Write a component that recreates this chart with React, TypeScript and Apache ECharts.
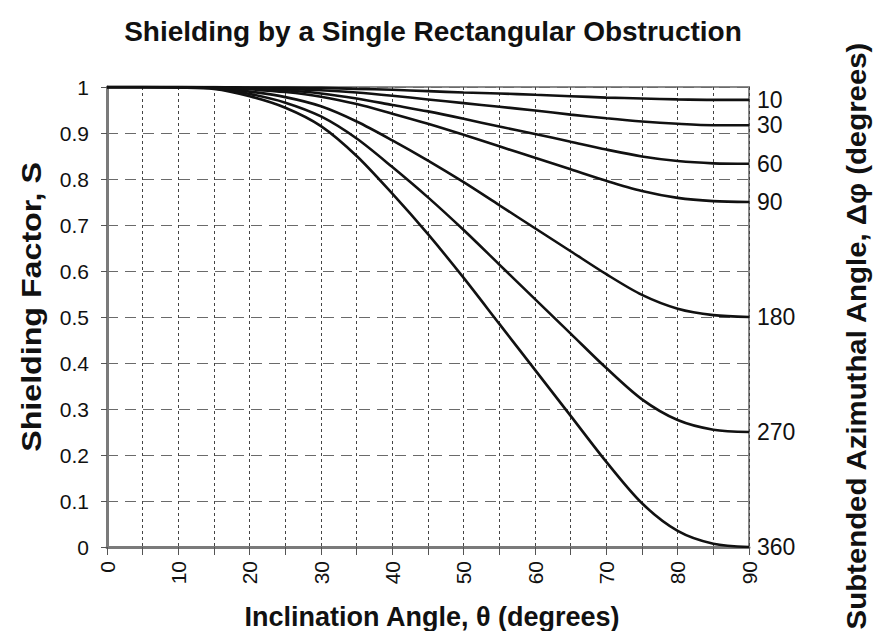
import React, { useEffect, useRef } from "react";
import * as echarts from "echarts";

const angles = [0, 5, 10, 15, 20, 25, 30, 35, 40, 45, 50, 55, 60, 65, 70, 75, 80, 85, 90];
const xTickLabels = ["0", "10", "20", "30", "40", "50", "60", "70", "80", "90"];
const azimuthLabels = ["10", "30", "60", "90", "180", "270", "360"];

const s10 = [1, 1, 1, 1, 0.999, 0.999, 0.998, 0.996, 0.994, 0.991, 0.988, 0.986, 0.983, 0.98, 0.977, 0.975, 0.973, 0.972, 0.972];
const s30 = [1, 1, 1, 1, 0.998, 0.996, 0.993, 0.988, 0.981, 0.973, 0.965, 0.957, 0.949, 0.94, 0.932, 0.925, 0.92, 0.917, 0.917];
const s60 = [1, 1, 1, 0.999, 0.997, 0.993, 0.986, 0.975, 0.961, 0.947, 0.931, 0.914, 0.898, 0.881, 0.864, 0.849, 0.839, 0.834, 0.833];
const s90 = [1, 1, 1, 0.999, 0.995, 0.989, 0.979, 0.963, 0.942, 0.92, 0.896, 0.871, 0.846, 0.821, 0.796, 0.774, 0.759, 0.752, 0.75];
const s180 = [1, 1, 1, 0.998, 0.99, 0.978, 0.958, 0.925, 0.884, 0.84, 0.793, 0.743, 0.693, 0.643, 0.593, 0.548, 0.518, 0.504, 0.5];
const s270 = [1, 1, 0.999, 0.997, 0.985, 0.966, 0.936, 0.888, 0.826, 0.76, 0.689, 0.614, 0.539, 0.464, 0.389, 0.321, 0.276, 0.255, 0.25];
const s360 = [1, 1, 0.999, 0.996, 0.98, 0.955, 0.915, 0.85, 0.768, 0.68, 0.585, 0.485, 0.385, 0.285, 0.185, 0.095, 0.035, 0.007, 0];

const seriesValues = [s10, s30, s60, s90, s180, s270, s360];

const FONT = "'Liberation Sans', Arial, sans-serif";

export default function App() {
  const ref = useRef<HTMLDivElement>(null);

  useEffect(() => {
    if (!ref.current) return;
    const chart = echarts.init(ref.current, null, { renderer: "svg" });

    const series = seriesValues.map((vals, i) => ({
      name: azimuthLabels[i],
      type: "line",
      data: angles.map((a, j) => [a, vals[j]]),
      smooth: 0.3,
      symbol: "none",
      lineStyle: { color: "#111", width: 2.6 },
      endLabel: {
        show: true,
        formatter: "{a}",
        color: "#111",
        fontSize: 23,
        fontFamily: FONT,
        distance: 8,
      },
      z: 5,
    }));

    chart.setOption({
      animation: false,
      textStyle: { fontFamily: FONT },
      grid: {
        left: 107,
        right: 141,
        top: 87,
        bottom: 92,
        show: true,
        borderColor: "#8a8a8a",
        borderWidth: 2,
        backgroundColor: "transparent",
      },
      xAxis: {
        type: "value",
        min: 0,
        max: 90,
        interval: 5,
        axisLine: { show: true, lineStyle: { color: "#7a7a7a", width: 3 } },
        axisTick: { show: true, length: 8, lineStyle: { color: "#555", width: 1 } },
        axisLabel: {
          rotate: 90,
          margin: 14,
          fontSize: 21,
          color: "#111",
          fontFamily: FONT,
          formatter: (v: number) => {
            const s = String(Math.round(v));
            return xTickLabels.indexOf(s) >= 0 ? s : "";
          },
        },
        splitLine: {
          show: true,
          lineStyle: { color: "#444", width: 1, type: [3, 3] },
        },
      },
      yAxis: {
        type: "value",
        min: 0,
        max: 1,
        interval: 0.1,
        axisLine: { show: true, lineStyle: { color: "#7a7a7a", width: 3 } },
        axisTick: { show: true, length: 6, lineStyle: { color: "#555", width: 1 } },
        axisLabel: { margin: 18, fontSize: 21, color: "#111", fontFamily: FONT },
        splitLine: {
          show: true,
          lineStyle: { color: "#6a6a6a", width: 1, type: [11, 7] },
        },
      },
      graphic: [
        {
          type: "text",
          x: 433,
          y: 31,
          style: {
            text: "Shielding by a Single Rectangular Obstruction",
            font: `bold 28px ${FONT}`,
            fill: "#111",
            align: "center",
            verticalAlign: "middle",
          },
        },
        {
          type: "text",
          x: 31,
          y: 307,
          rotation: Math.PI / 2,
          scaleX: 1.15,
          style: {
            text: "Shielding Factor, S",
            font: `bold 28px ${FONT}`,
            fill: "#111",
            align: "center",
            verticalAlign: "middle",
          },
        },
        {
          type: "text",
          x: 432,
          y: 617,
          style: {
            text: "Inclination Angle, θ (degrees)",
            font: `bold 27px ${FONT}`,
            fill: "#111",
            align: "center",
            verticalAlign: "middle",
          },
        },
        {
          type: "text",
          x: 856,
          y: 336,
          rotation: Math.PI / 2,
          scaleX: 1.05,
          style: {
            text: "Subtended Azimuthal Angle, Δφ (degrees)",
            font: `bold 28px ${FONT}`,
            fill: "#111",
            align: "center",
            verticalAlign: "middle",
          },
        },
      ],
      series,
    });

    return () => chart.dispose();
  }, []);

  return <div ref={ref} style={{ width: 890, height: 639, margin: -8 }} />;
}
